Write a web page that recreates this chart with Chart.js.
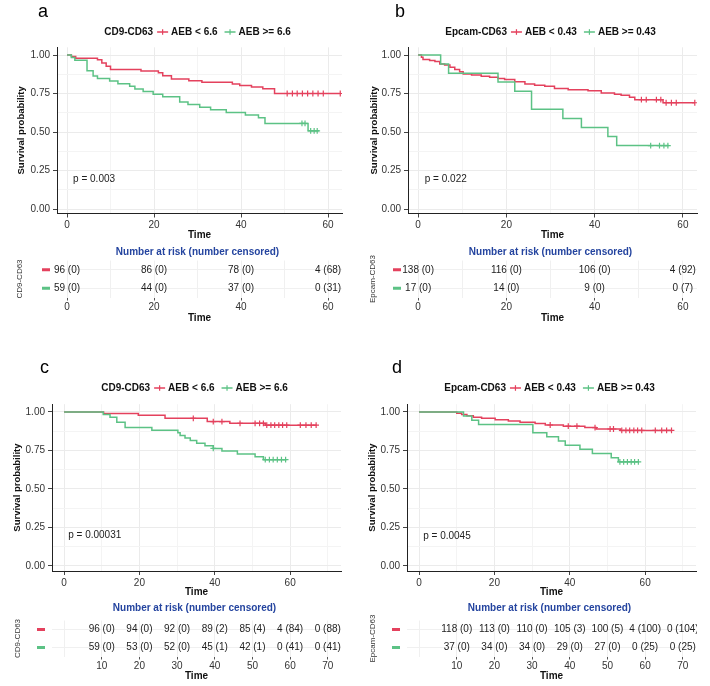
<!DOCTYPE html>
<html><head><meta charset="utf-8">
<script src="https://cdn.jsdelivr.net/npm/chart.js@4.4.0/dist/chart.umd.min.js"></script>
<style>
html,body{margin:0;padding:0;background:#fff}
body{width:710px;height:686px;overflow:hidden;position:relative}
canvas{position:absolute}
</style></head><body>
<script>
// ---------- colours ----------
const RED = '#E4415D', GREEN = '#5CC285', BLUE = '#24449F';

// ---------- shared labels ----------
const cdName = 'CD9-CD63', epName = 'Epcam-CD63';
const cdGroups = ['AEB < 6.6', 'AEB >= 6.6'];
const epGroups = ['AEB < 0.43', 'AEB >= 0.43'];
const riskTitle = 'Number at risk (number censored)';
const yTitle = 'Survival probability';
const xTitle = 'Time';
const kmYTicks = [0, 0.25, 0.5, 0.75, 1];
const kmYTickLabels = ['0.00', '0.25', '0.50', '0.75', '1.00'];
const kmYMinor = [0.125, 0.375, 0.625, 0.875];
const abXTicks = [0, 20, 40, 60];
const abXMinor = [10, 30, 50];
const cdXTicks = [0, 20, 40, 60];
const cdXMinor = [10, 30, 50, 70];
const cdRiskXTicks = [10, 20, 30, 40, 50, 60, 70];
const cdRiskXMinor = [0];

// ---------- panel a ----------
const aRedTime = [0, 1, 2, 7, 8, 9, 10, 17, 21, 22, 24, 28, 31, 38, 39.7, 42.4, 45, 47.7, 62.8];
const aRedSurv = [1, 0.99, 0.979, 0.969, 0.948, 0.927, 0.906, 0.896, 0.885, 0.865, 0.844, 0.833, 0.823, 0.8125, 0.802, 0.792, 0.781, 0.75, 0.75];
const aRedCensor = [50.6, 51.8, 52.9, 54.1, 55.3, 56.5, 57.7, 58.9, 62.8];
const aGreenTime = [0, 1, 1.8, 4.6, 6, 7, 9.8, 11.7, 14.4, 15.6, 17.5, 19.8, 22, 25.9, 27.8, 30.5, 33, 36.6, 41, 44, 45.5, 55.4, 57.9];
const aGreenSurv = [1, 0.983, 0.966, 0.898, 0.864, 0.847, 0.831, 0.814, 0.797, 0.78, 0.763, 0.746, 0.729, 0.695, 0.678, 0.661, 0.644, 0.627, 0.61, 0.593, 0.556, 0.508, 0.508];
const aGreenCensor = [54, 54.7, 56, 56.8, 57.5];
const aPval = 'p = 0.003';
const aRiskTimes = [0, 20, 40, 60];
const aRiskRed = ['96 (0)', '86 (0)', '78 (0)', '4 (68)'];
const aRiskGreen = ['59 (0)', '44 (0)', '37 (0)', '0 (31)'];

// ---------- panel b ----------
const bRedTime = [0, 0.75, 1.1, 2.6, 3.8, 4.9, 6, 7.2, 8.3, 9.4, 10.2, 12.1, 14.3, 16.2, 18.1, 19.6, 21.9, 24.2, 26.4, 28.7, 30.9, 34, 38.5, 41.5, 44.5, 46, 47.9, 49.1, 55.5, 62.7];
const bRedSurv = [1, 0.986, 0.971, 0.964, 0.957, 0.942, 0.935, 0.92, 0.906, 0.891, 0.877, 0.87, 0.862, 0.855, 0.848, 0.841, 0.826, 0.812, 0.804, 0.797, 0.783, 0.775, 0.768, 0.754, 0.746, 0.739, 0.725, 0.71, 0.69, 0.69];
const bRedCensor = [50.6, 51.7, 54, 55, 56.2, 57.4, 58.5, 62.7];
const bGreenTime = [0, 5.1, 6.9, 18.1, 21.9, 25.7, 32.8, 37, 43, 45, 56.8];
const bGreenSurv = [1, 0.941, 0.882, 0.824, 0.765, 0.647, 0.588, 0.529, 0.471, 0.412, 0.412];
const bGreenCensor = [52.7, 54.7, 55.7, 56.6];
const bPval = 'p = 0.022';
const bRiskTimes = [0, 20, 40, 60];
const bRiskRed = ['138 (0)', '116 (0)', '106 (0)', '4 (92)'];
const bRiskGreen = ['17 (0)', '14 (0)', '9 (0)', '0 (7)'];

// ---------- panel c ----------
const cRedTime = [0, 10.5, 19.7, 26.8, 38, 44, 53.4, 67];
const cRedSurv = [1, 0.99, 0.979, 0.958, 0.937, 0.926, 0.914, 0.914];
const cRedCensor = [34.3, 39.6, 41.9, 46.7, 50.7, 51.9, 52.9, 53.8, 54.9, 55.9, 57, 58, 59.1, 62.7, 64.2, 65.6, 66.9];
const cGreenTime = [0, 10.4, 12.2, 14, 16.2, 23.3, 30.2, 30.8, 32.1, 33.5, 35.2, 37.4, 39.6, 41.9, 46, 50.7, 52.9, 59];
const cGreenSurv = [1, 0.983, 0.966, 0.932, 0.898, 0.881, 0.864, 0.847, 0.83, 0.814, 0.797, 0.78, 0.763, 0.746, 0.727, 0.708, 0.69, 0.69];
const cGreenCensor = [39.6, 53.4, 54.5, 55.5, 56.6, 57.7, 58.8];
const cPval = 'p = 0.00031';
const cRiskTimes = [10, 20, 30, 40, 50, 60, 70];
const cRiskRed = ['96 (0)', '94 (0)', '92 (0)', '89 (2)', '85 (4)', '4 (84)', '0 (88)'];
const cRiskGreen = ['59 (0)', '53 (0)', '52 (0)', '45 (1)', '42 (1)', '0 (41)', '0 (41)'];

// ---------- panel d ----------
const dRedTime = [0, 10, 11.3, 12.7, 14.4, 16.6, 20.2, 23.7, 26.8, 30.8, 33.5, 38.3, 44, 47, 53.4, 67];
const dRedSurv = [1, 0.992, 0.983, 0.975, 0.966, 0.958, 0.949, 0.941, 0.932, 0.924, 0.915, 0.907, 0.898, 0.889, 0.88, 0.88];
const dRedCensor = [34.8, 39.6, 41.9, 46.7, 50.7, 51.6, 53.8, 54.9, 55.9, 57, 58, 59.1, 62.7, 64.4, 65.7, 67];
const dGreenTime = [0, 11.8, 14, 15.8, 30.2, 33.9, 37, 38.8, 42.7, 46, 51, 52.9, 58.2];
const dGreenSurv = [1, 0.973, 0.946, 0.919, 0.865, 0.838, 0.811, 0.784, 0.757, 0.73, 0.703, 0.676, 0.676];
const dGreenCensor = [53.3, 54.3, 55.3, 56.3, 57.2, 58.2];
const dPval = 'p = 0.0045';
const dRiskTimes = [10, 20, 30, 40, 50, 60, 70];
const dRiskRed = ['118 (0)', '113 (0)', '110 (0)', '105 (3)', '100 (5)', '4 (100)', '0 (104)'];
const dRiskGreen = ['37 (0)', '34 (0)', '34 (0)', '29 (0)', '27 (0)', '0 (25)', '0 (25)'];

// ---------- helpers ----------
const FONT = '"Liberation Sans", Arial, Helvetica, sans-serif';
Chart.defaults.font.family = FONT;

function makeCanvas(left, top, w, h) {
  const c = document.createElement('canvas');
  c.width = w; c.height = h;
  c.style.left = left + 'px'; c.style.top = top + 'px';
  c.style.width = w + 'px'; c.style.height = h + 'px';
  document.body.appendChild(c);
  return c;
}
function stepAt(ts, ss, t) {
  let v = ss[0];
  for (let i = 0; i < ts.length; i++) if (ts[i] <= t) v = ss[i];
  return v;
}
function drawLegend(ctx, cx, cy, title, labels) {
  ctx.font = 'bold 10px ' + FONT;
  const symW = 11;
  const tw = ctx.measureText(title).width;
  const l1 = ctx.measureText(labels[0]).width, l2 = ctx.measureText(labels[1]).width;
  const total = tw + 4 + symW + 3 + l1 + 7 + symW + 3 + l2;
  let x = cx - total / 2;
  ctx.fillStyle = '#111'; ctx.textAlign = 'left'; ctx.textBaseline = 'middle';
  ctx.fillText(title, x, cy); x += tw + 4;
  const sym = (x0, col) => {
    ctx.strokeStyle = col; ctx.lineWidth = 1.5;
    ctx.beginPath(); ctx.moveTo(x0, cy); ctx.lineTo(x0 + symW, cy); ctx.stroke();
    ctx.lineWidth = 1.2;
    ctx.beginPath(); ctx.moveTo(x0 + symW / 2, cy - 2.8); ctx.lineTo(x0 + symW / 2, cy + 2.8); ctx.stroke();
  };
  sym(x, RED); x += symW + 3;
  ctx.fillStyle = '#111'; ctx.fillText(labels[0], x, cy); x += l1 + 7;
  sym(x, GREEN); x += symW + 3;
  ctx.fillStyle = '#111'; ctx.fillText(labels[1], x, cy);
}

function kmChart(P) {
  const cv = makeCanvas(P.left, P.top, 355, P.h);
  const line = (ts, ss, col) => ({
    type: 'line', data: ts.map((t, i) => ({x: t, y: ss[i]})),
    borderColor: col, backgroundColor: col, borderWidth: 1.5, stepped: true,
    pointRadius: 0, pointHoverRadius: 0, fill: false, tension: 0
  });
  const cens = (cs, ts, ss, col) => ({
    type: 'scatter', data: cs.map(t => ({x: t, y: stepAt(ts, ss, t)})),
    pointStyle: 'cross', pointRadius: 2.9, pointHoverRadius: 2.9,
    borderColor: col, backgroundColor: col, borderWidth: 1.2
  });
  const xAll = P.xTicks.concat(P.xMinor).sort((a, b) => a - b);
  const yAll = kmYTicks.concat(kmYMinor).sort((a, b) => a - b);
  new Chart(cv, {
    type: 'line',
    data: {datasets: [
      cens(P.gC, P.gT, P.gS, GREEN), line(P.gT, P.gS, GREEN),
      cens(P.rC, P.rT, P.rS, RED), line(P.rT, P.rS, RED)
    ]},
    options: {
      responsive: false, animation: false, events: [],
      layout: {padding: {left: P.padL, right: P.padR, top: P.padT, bottom: 0}},
      plugins: {legend: {display: false}, tooltip: {enabled: false}},
      scales: {
        x: {
          type: 'linear', min: P.xmin, max: P.xmax, bounds: 'data',
          afterBuildTicks: s => { s.ticks = xAll.map(v => ({value: v})); },
          afterFit: s => { s.height = P.xH; },
          ticks: {
            autoSkip: false, maxRotation: 0, padding: 2, color: '#333', font: {size: 10},
            callback: v => (P.xTicks.indexOf(v) >= 0 ? String(v) : '')
          },
          grid: {
            color: c => (c.tick && P.xTicks.indexOf(c.tick.value) >= 0 ? '#EBEBEB' : '#F4F4F4'),
            tickColor: c => (c.tick && P.xTicks.indexOf(c.tick.value) >= 0 ? '#444' : 'rgba(0,0,0,0)'),
            tickLength: 4, lineWidth: 1
          },
          border: {display: true, color: '#222', width: 1},
          title: {display: true, text: xTitle, color: '#111', font: {size: 10, weight: 'bold'}, padding: 0}
        },
        y: {
          type: 'linear', min: P.ymin, max: P.ymax, bounds: 'data',
          afterBuildTicks: s => { s.ticks = yAll.map(v => ({value: v})); },
          afterFit: s => { s.width = P.yW; },
          ticks: {
            autoSkip: false, padding: 3, color: '#333', font: {size: 10},
            callback: v => { const i = kmYTicks.indexOf(v); return i >= 0 ? kmYTickLabels[i] : ''; }
          },
          grid: {
            color: c => (c.tick && kmYTicks.indexOf(c.tick.value) >= 0 ? '#EBEBEB' : '#F4F4F4'),
            tickColor: c => (c.tick && kmYTicks.indexOf(c.tick.value) >= 0 ? '#444' : 'rgba(0,0,0,0)'),
            tickLength: 4, lineWidth: 1
          },
          border: {display: true, color: '#222', width: 1},
          title: {display: true, text: yTitle, color: '#111', font: {size: 9.5, weight: 'bold'}, padding: 0}
        }
      }
    },
    plugins: [{
      id: 'kmDeco' + P.letter,
      afterDraw(chart) {
        const ctx = chart.ctx, a = chart.chartArea, xs = chart.scales.x, ys = chart.scales.y;
        ctx.save();
        ctx.fillStyle = '#000'; ctx.font = '18px ' + FONT;
        ctx.textAlign = 'left'; ctx.textBaseline = 'alphabetic';
        ctx.fillText(P.letter, P.letterX, P.letterY);
        ctx.font = '10px ' + FONT; ctx.fillStyle = '#222'; ctx.textBaseline = 'middle';
        ctx.fillText(P.pval, xs.getPixelForValue(P.pX), ys.getPixelForValue(P.pY));
        drawLegend(ctx, (a.left + a.right) / 2 - 2, P.legY, P.name, P.groups);
        ctx.restore();
      }
    }]
  });
}

function riskChart(P) {
  const cv = makeCanvas(P.left, P.top, 355, P.h);
  const xAll = P.xTicks.concat(P.xMinor).sort((a, b) => a - b);
  const vals = [P.red, P.green];
  new Chart(cv, {
    type: 'scatter',
    data: {datasets: [
      {data: P.times.map(t => ({x: t, y: P.groups[0]})), pointRadius: 0, borderColor: RED},
      {data: P.times.map(t => ({x: t, y: P.groups[1]})), pointRadius: 0, borderColor: GREEN}
    ]},
    options: {
      responsive: false, animation: false, events: [],
      layout: {padding: {left: P.padL, right: P.padR, top: P.padT, bottom: 0}},
      plugins: {legend: {display: false}, tooltip: {enabled: false}},
      scales: {
        x: {
          type: 'linear', min: P.xmin, max: P.xmax, bounds: 'data',
          afterBuildTicks: s => { s.ticks = xAll.map(v => ({value: v})); },
          afterFit: s => { s.height = P.xH; },
          ticks: {
            autoSkip: false, maxRotation: 0, padding: 1, color: '#333', font: {size: 10},
            callback: v => (P.xTicks.indexOf(v) >= 0 ? String(v) : '')
          },
          grid: {
            color: '#F0F0F0',
            tickColor: c => (c.tick && P.xTicks.indexOf(c.tick.value) >= 0 ? '#555' : 'rgba(0,0,0,0)'),
            tickLength: 3, lineWidth: 1
          },
          border: {display: false},
          title: {display: true, text: xTitle, color: '#111', font: {size: 10, weight: 'bold'}, padding: 0}
        },
        y: {
          type: 'category', labels: P.groups, offset: true,
          afterFit: s => { s.width = P.yW; },
          ticks: {display: false},
          grid: {offset: false, color: '#F0F0F0', drawTicks: false},
          border: {display: false},
          title: {display: true, text: P.name, color: '#333', font: {size: 8}, padding: 0}
        }
      }
    },
    plugins: [{
      id: 'riskDeco' + P.name,
      afterDraw(chart) {
        const ctx = chart.ctx, a = chart.chartArea, ys = chart.scales.y;
        ctx.save();
        ctx.font = 'bold 10px ' + FONT; ctx.fillStyle = BLUE;
        ctx.textAlign = 'center'; ctx.textBaseline = 'middle';
        ctx.fillText(riskTitle, (a.left + a.right) / 2 - 2, P.titleY);
        [RED, GREEN].forEach((col, i) => {
          ctx.fillStyle = col;
          ctx.fillRect(a.left - 15, ys.getPixelForValue(i) - 1.5, 8, 3);
        });
        ctx.beginPath(); ctx.rect(0, 0, a.right + 1, chart.height); ctx.clip();
        ctx.font = '10px ' + FONT; ctx.fillStyle = '#222';
        chart.data.datasets.forEach((ds, di) => {
          chart.getDatasetMeta(di).data.forEach((el, i) => {
            ctx.fillText(vals[di][i], el.x, el.y);
          });
        });
        ctx.restore();
      }
    }]
  });
}

// ---------- build ----------
kmChart({letter: 'a', left: 0, top: 0, h: 241, padL: 16, yW: 41, padR: 13, padT: 47.3, xH: 27.5,
  xmin: -2.3, xmax: 63.2, ymin: -0.029, ymax: 1.05, xTicks: abXTicks, xMinor: abXMinor,
  rT: aRedTime, rS: aRedSurv, rC: aRedCensor, gT: aGreenTime, gS: aGreenSurv, gC: aGreenCensor,
  pval: aPval, pX: 1.4, pY: 0.195, letterX: 38, letterY: 16.5, legY: 32, name: cdName, groups: cdGroups});
riskChart({name: cdName, groups: cdGroups, left: 0, top: 241, h: 83, padL: 15, yW: 42, padR: 13, padT: 19.5, xH: 26.5,
  xmin: -2.3, xmax: 63.2, xTicks: abXTicks, xMinor: abXMinor, times: aRiskTimes, red: aRiskRed, green: aRiskGreen, titleY: 11});

kmChart({letter: 'b', left: 355, top: 0, h: 241, padL: 14, yW: 39, padR: 13, padT: 47.3, xH: 27.5,
  xmin: -2.3, xmax: 63.2, ymin: -0.029, ymax: 1.05, xTicks: abXTicks, xMinor: abXMinor,
  rT: bRedTime, rS: bRedSurv, rC: bRedCensor, gT: bGreenTime, gS: bGreenSurv, gC: bGreenCensor,
  pval: bPval, pX: 1.5, pY: 0.195, letterX: 40, letterY: 16.5, legY: 32, name: epName, groups: epGroups});
riskChart({name: epName, groups: epGroups, left: 355, top: 241, h: 83, padL: 13, yW: 40, padR: 13, padT: 19.5, xH: 26.5,
  xmin: -2.3, xmax: 63.2, xTicks: abXTicks, xMinor: abXMinor, times: bRiskTimes, red: bRiskRed, green: bRiskGreen, titleY: 11});

kmChart({letter: 'c', left: 0, top: 340, h: 258, padL: 12, yW: 40, padR: 14, padT: 64.2, xH: 27,
  xmin: -3.2, xmax: 73.5, ymin: -0.033, ymax: 1.05, xTicks: cdXTicks, xMinor: cdXMinor,
  rT: cRedTime, rS: cRedSurv, rC: cRedCensor, gT: cGreenTime, gS: cGreenSurv, gC: cGreenCensor,
  pval: cPval, pX: 1.1, pY: 0.2, letterX: 40, letterY: 33, legY: 48, name: cdName, groups: cdGroups});
riskChart({name: cdName, groups: cdGroups, left: 0, top: 598, h: 84, padL: 13, yW: 39, padR: 14, padT: 22.5, xH: 25.5,
  xmin: -3.2, xmax: 73.5, xTicks: cdRiskXTicks, xMinor: cdRiskXMinor, times: cRiskTimes, red: cRiskRed, green: cRiskGreen, titleY: 10});

kmChart({letter: 'd', left: 355, top: 340, h: 258, padL: 12, yW: 40, padR: 14, padT: 64.2, xH: 27,
  xmin: -3.2, xmax: 73.5, ymin: -0.033, ymax: 1.05, xTicks: cdXTicks, xMinor: cdXMinor,
  rT: dRedTime, rS: dRedSurv, rC: dRedCensor, gT: dGreenTime, gS: dGreenSurv, gC: dGreenCensor,
  pval: dPval, pX: 1.1, pY: 0.195, letterX: 37, letterY: 33, legY: 48, name: epName, groups: epGroups});
riskChart({name: epName, groups: epGroups, left: 355, top: 598, h: 84, padL: 13, yW: 39, padR: 14, padT: 22.5, xH: 25.5,
  xmin: -3.2, xmax: 73.5, xTicks: cdRiskXTicks, xMinor: cdRiskXMinor, times: dRiskTimes, red: dRiskRed, green: dRiskGreen, titleY: 10});
</script>
</body></html>
